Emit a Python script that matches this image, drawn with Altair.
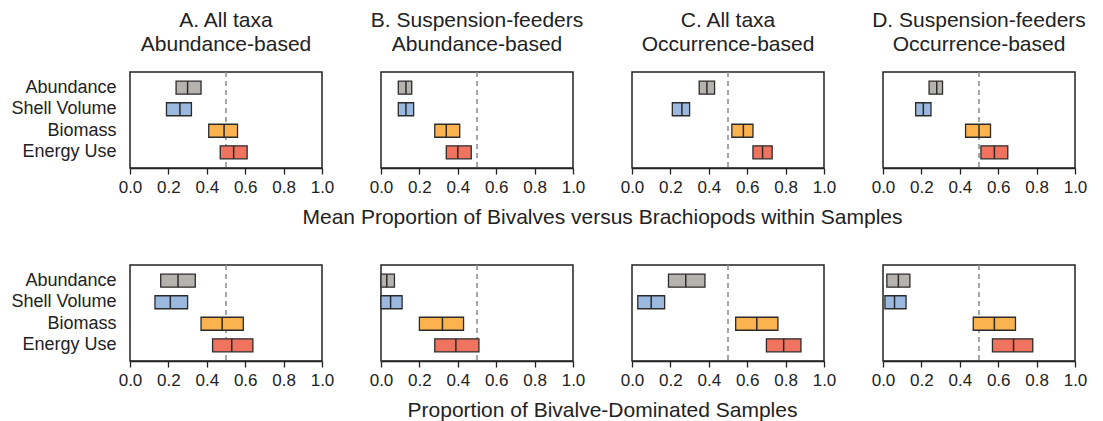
import altair as alt
import pandas as pd

categories = ["Abundance", "Shell Volume", "Biomass", "Energy Use"]
colors = ["#b6b3ae", "#9bb8de", "#fbb34f", "#ef735f"]

panel_titles = [
    ["A. All taxa", "Abundance-based"],
    ["B. Suspension-feeders", "Abundance-based"],
    ["C. All taxa", "Occurrence-based"],
    ["D. Suspension-feeders", "Occurrence-based"],
]
row_titles = [
    "Mean Proportion of Bivalves versus Brachiopods within Samples",
    "Proportion of Bivalve-Dominated Samples",
]
tick_values = [0.0, 0.2, 0.4, 0.6, 0.8, 1.0]

# Top row: mean proportion (low, median, high) per category
top_A_low = [0.24, 0.19, 0.41, 0.47]
top_A_mid = [0.30, 0.26, 0.49, 0.54]
top_A_high = [0.37, 0.32, 0.56, 0.61]

top_B_low = [0.09, 0.09, 0.28, 0.34]
top_B_mid = [0.13, 0.13, 0.34, 0.40]
top_B_high = [0.16, 0.17, 0.41, 0.47]

top_C_low = [0.35, 0.21, 0.52, 0.63]
top_C_mid = [0.39, 0.26, 0.58, 0.68]
top_C_high = [0.43, 0.30, 0.63, 0.73]

top_D_low = [0.24, 0.17, 0.43, 0.51]
top_D_mid = [0.28, 0.21, 0.50, 0.58]
top_D_high = [0.31, 0.25, 0.56, 0.65]

# Bottom row: proportion of bivalve-dominated samples
bot_A_low = [0.16, 0.13, 0.37, 0.43]
bot_A_mid = [0.25, 0.21, 0.48, 0.53]
bot_A_high = [0.34, 0.30, 0.59, 0.64]

bot_B_low = [0.00, 0.00, 0.20, 0.28]
bot_B_mid = [0.03, 0.05, 0.32, 0.39]
bot_B_high = [0.07, 0.11, 0.43, 0.51]

bot_C_low = [0.19, 0.03, 0.54, 0.70]
bot_C_mid = [0.28, 0.10, 0.65, 0.79]
bot_C_high = [0.38, 0.17, 0.76, 0.88]

bot_D_low = [0.02, 0.01, 0.47, 0.57]
bot_D_mid = [0.08, 0.06, 0.58, 0.68]
bot_D_high = [0.14, 0.12, 0.69, 0.78]

panels_data = [
    [(top_A_low, top_A_mid, top_A_high), (top_B_low, top_B_mid, top_B_high),
     (top_C_low, top_C_mid, top_C_high), (top_D_low, top_D_mid, top_D_high)],
    [(bot_A_low, bot_A_mid, bot_A_high), (bot_B_low, bot_B_mid, bot_B_high),
     (bot_C_low, bot_C_mid, bot_C_high), (bot_D_low, bot_D_mid, bot_D_high)],
]

FONT = "Liberation Sans"
TXT = "#222222"
x_scale = alt.Scale(domain=[0, 1], nice=False, zero=False)
y_scale = alt.Scale(domain=categories, paddingInner=0, paddingOuter=0.23)
c_scale = alt.Scale(domain=categories, range=colors)


def x_axis_for(row, col):
    common = dict(
        values=tick_values, format=".1f", grid=False, labelOverlap=False,
        labelFlush=False, labelBound=False,
        labelFontSize=17, labelFont=FONT, labelColor=TXT, labelPadding=5,
        tickSize=6, tickWidth=1.3, tickColor="#222", domainColor="#222", domainWidth=1.5,
    )
    if col == 1:
        return alt.Axis(
            title=row_titles[row], titleFontSize=21, titleFont=FONT,
            titleFontWeight="normal", titleColor=TXT, titlePadding=11,
            titleX=221, titleAlign="center", **common,
        )
    return alt.Axis(title=None, **common)


def make_panel(row, col):
    low, mid, high = panels_data[row][col]
    df = pd.DataFrame({"category": categories, "low": low, "mid": mid, "high": high})
    xa = x_axis_for(row, col)
    y_axis = alt.Axis(
        title=None, ticks=False, domain=False, labelFontSize=18, labelFont=FONT,
        labelColor=TXT, labelPadding=14,
    ) if col == 0 else None
    base = alt.Chart(df)
    bars = base.mark_bar(size=13, stroke="#2b2b2b", strokeWidth=1.3).encode(
        x=alt.X("low:Q", scale=x_scale, axis=xa),
        x2="high:Q",
        y=alt.Y("category:N", scale=y_scale, axis=y_axis, sort=categories),
        color=alt.Color("category:N", scale=c_scale, legend=None),
    )
    med = base.mark_tick(size=13, thickness=1.5, color="#2b2b2b", opacity=1).encode(
        x=alt.X("mid:Q", scale=x_scale, axis=xa),
        y=alt.Y("category:N", scale=y_scale, axis=y_axis, sort=categories),
    )
    ref = alt.Chart(pd.DataFrame({"v": [0.5]})).mark_rule(
        color="#8a8a8a", strokeDash=[5, 4], strokeWidth=1.5
    ).encode(x=alt.X("v:Q", scale=x_scale, axis=xa))
    layer = alt.layer(ref, bars, med).properties(width=192, height=96)
    if row == 0:
        layer = layer.properties(title=alt.TitleParams(
            text=panel_titles[col], fontSize=21, font=FONT, fontWeight="normal",
            color=TXT, anchor="middle", offset=16, lineHeight=24,
        ))
    return layer


panels = [make_panel(r, c) for r in range(2) for c in range(4)]

chart = alt.concat(
    *panels, columns=4, spacing={"row": 97, "column": 59}, bounds="flush"
).properties(
    padding={"left": 2, "top": 1, "right": 0, "bottom": 0}
).configure_view(
    stroke="#222", strokeWidth=1.5
)

chart.save("out.html", embed_options={"renderer": "svg", "actions": False})
